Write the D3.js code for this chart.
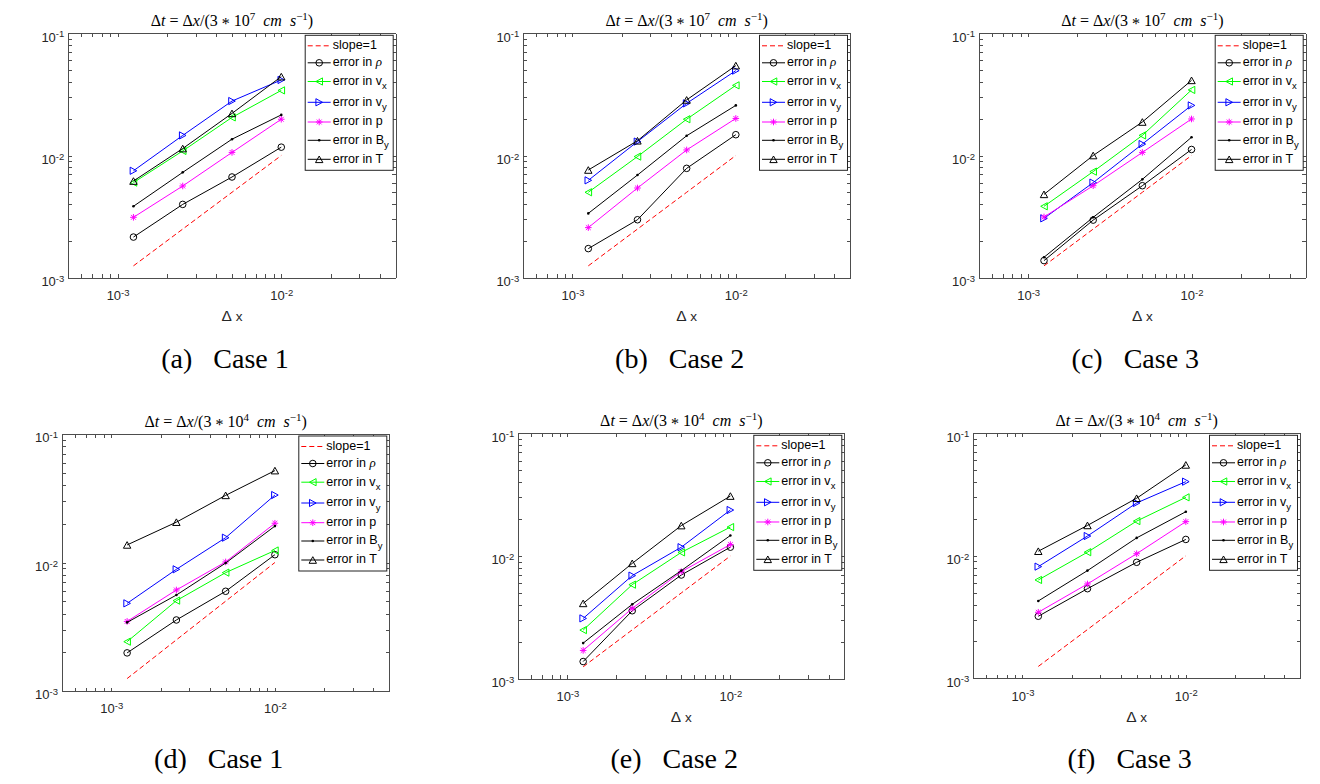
<!DOCTYPE html>
<html>
<head>
<meta charset="utf-8">
<title>convergence</title>
<script src="https://d3js.org/d3.v7.min.js"></script>
<style>
  body { margin: 0; background: #fff; }
  svg { display: block; }
  .axis path, .axis line { stroke: #4d4d4d; stroke-width: 1; shape-rendering: crispEdges; }
  .legend text { font-family: "Liberation Sans", Arial, sans-serif; font-size: 12.5px; fill: #000; }
  .title { font-family: "Liberation Serif", "Times New Roman", serif; font-size: 16px; fill: #000; }
  .xlabel { font-family: "Liberation Sans", Arial, sans-serif; font-size: 13.5px; fill: #262626; }
  .caption { font-family: "Liberation Serif", "Times New Roman", serif; font-size: 28px; fill: #000; }
</style>
</head>
<body>
<svg width="1320" height="784"></svg>
<script>

// grid spacing used in every case
var dx = [1.25e-3, 2.5e-3, 5e-3, 1e-2];
// reference line of slope 1
var slopeRef = [1.25e-3, 2.5e-3, 5e-3, 1e-2];

// errors, one row per panel (a)..(f)
var errRho = [
  [2.15e-3, 3.98e-3, 6.67e-3, 1.17e-2],
  [1.73e-3, 2.98e-3, 7.85e-3, 1.48e-2],
  [1.38e-3, 2.96e-3, 5.66e-3, 1.12e-2],
  [1.98e-3, 3.57e-3, 5.97e-3, 1.15e-2],
  [1.38e-3, 3.58e-3, 7.0e-3, 1.18e-2],
  [3.21e-3, 5.39e-3, 8.85e-3, 1.36e-2]
];
var errVx = [
  [6.0e-3, 1.09e-2, 2.05e-2, 3.41e-2],
  [5.0e-3, 9.8e-3, 1.98e-2, 3.75e-2],
  [3.84e-3, 7.38e-3, 1.46e-2, 3.44e-2],
  [2.42e-3, 5.05e-3, 8.34e-3, 1.24e-2],
  [2.49e-3, 5.84e-3, 1.07e-2, 1.72e-2],
  [6.35e-3, 1.07e-2, 1.92e-2, 3.0e-2]
];
var errVy = [
  [7.5e-3, 1.46e-2, 2.79e-2, 4.15e-2],
  [6.26e-3, 1.30e-2, 2.67e-2, 4.95e-2],
  [3.06e-3, 6.0e-3, 1.24e-2, 2.57e-2],
  [4.81e-3, 8.85e-3, 1.56e-2, 3.35e-2],
  [3.10e-3, 6.92e-3, 1.18e-2, 2.37e-2],
  [8.16e-3, 1.45e-2, 2.70e-2, 4.03e-2]
];
var errP = [
  [3.12e-3, 5.63e-3, 1.06e-2, 1.98e-2],
  [2.57e-3, 5.42e-3, 1.11e-2, 2.01e-2],
  [3.14e-3, 5.66e-3, 1.06e-2, 1.99e-2],
  [3.48e-3, 6.11e-3, 1.01e-2, 2.02e-2],
  [1.70e-3, 3.74e-3, 7.45e-3, 1.24e-2],
  [3.46e-3, 5.89e-3, 1.04e-2, 1.90e-2]
];
var errBy = [
  [3.84e-3, 7.28e-3, 1.36e-2, 2.15e-2],
  [3.36e-3, 6.92e-3, 1.45e-2, 2.57e-2],
  [1.47e-3, 3.12e-3, 6.38e-3, 1.41e-2],
  [3.42e-3, 5.58e-3, 9.9e-3, 1.92e-2],
  [1.95e-3, 4.04e-3, 7.6e-3, 1.47e-2],
  [4.28e-3, 7.57e-3, 1.40e-2, 2.29e-2]
];
var errT = [
  [6.18e-3, 1.14e-2, 2.21e-2, 4.42e-2],
  [7.61e-3, 1.32e-2, 2.85e-2, 5.44e-2],
  [4.81e-3, 1.0e-2, 1.88e-2, 4.12e-2],
  [1.37e-2, 2.06e-2, 3.33e-2, 5.19e-2],
  [4.11e-3, 8.71e-3, 1.77e-2, 3.08e-2],
  [1.09e-2, 1.77e-2, 2.95e-2, 5.52e-2]
];

var panelLetters = ["a", "b", "c", "d", "e", "f"];
var caseNames = ["Case 1", "Case 2", "Case 3", "Case 1", "Case 2", "Case 3"];
var speedExponent = ["7", "7", "7", "4", "4", "4"];
var xMajorTicks = [1e-3, 1e-2];
var yMajorTicks = [1e-3, 1e-2, 1e-1];

var svg = d3.select("svg");

// axes boxes
var frames = [
  {l: 68.3, r: 395.7, t: 33.3, b: 277.7, xlab: true,  capY: 368},
  {l: 523.3, r: 850,  t: 33.3, b: 277.7, xlab: true,  capY: 368},
  {l: 979,  r: 1305.7, t: 33.3, b: 277.7, xlab: true, capY: 368},
  {l: 62,   r: 389.3, t: 434,  b: 691,   xlab: false, capY: 768},
  {l: 518.3, r: 844.3, t: 433.3, b: 678.7, xlab: true, capY: 768},
  {l: 973.3, r: 1300, t: 433.3, b: 678.3, xlab: true, capY: 768}
];

// custom marker shapes for d3.symbol
var triLeft = { draw: function(c, s) { c.moveTo(-3.3, 0); c.lineTo(3.3, -3.6); c.lineTo(3.3, 3.6); c.closePath(); } };
var triRight = { draw: function(c, s) { c.moveTo(3.3, 0); c.lineTo(-3.3, -3.6); c.lineTo(-3.3, 3.6); c.closePath(); } };
var triUp = { draw: function(c, s) { c.moveTo(0, -3.3); c.lineTo(3.7, 3.3); c.lineTo(-3.7, 3.3); c.closePath(); } };
var star = { draw: function(c, s) {
  c.moveTo(-3.3, 0); c.lineTo(3.3, 0);
  c.moveTo(0, -3.3); c.lineTo(0, 3.3);
  c.moveTo(-2.4, -2.4); c.lineTo(2.4, 2.4);
  c.moveTo(-2.4, 2.4); c.lineTo(2.4, -2.4);
} };

var series = [
  {data: function(i) { return slopeRef; }, color: "#ff0000", dash: "5,3", marker: null,
   label: ["slope=1"]},
  {data: function(i) { return errRho[i]; }, color: "#000000", marker: d3.symbolCircle, size: 34,
   label: ["error in ", {it: "\u03c1"}]},
  {data: function(i) { return errVx[i]; }, color: "#00ff00", marker: triLeft,
   label: ["error in v", {sub: "x"}]},
  {data: function(i) { return errVy[i]; }, color: "#0000ff", marker: triRight,
   label: ["error in v", {sub: "y"}]},
  {data: function(i) { return errP[i]; }, color: "#ff00ff", marker: star,
   label: ["error in p"]},
  {data: function(i) { return errBy[i]; }, color: "#000000", marker: "dot",
   label: ["error in B", {sub: "y"}]},
  {data: function(i) { return errT[i]; }, color: "#000000", marker: triUp,
   label: ["error in T"]}
];
var legendRows = [10.5, 27.5, 46.2, 67, 86.7, 105, 124];

function drawMarker(sel, s, px, py) {
  if (!s.marker) return;
  if (s.marker === "dot") {
    sel.append("circle").attr("cx", px).attr("cy", py).attr("r", 1.3).attr("fill", s.color);
    return;
  }
  sel.append("path")
    .attr("d", d3.symbol().type(s.marker).size(s.size || 40)())
    .attr("transform", "translate(" + px + "," + py + ")")
    .attr("fill", "none")
    .attr("stroke", s.color)
    .attr("stroke-width", 1);
}

// "10" with a raised exponent at the decades, nothing elsewhere
function supLabel(sel) {
  sel.each(function(d) {
    var isMajor = Math.abs(Math.log10(d) - Math.round(Math.log10(d))) < 1e-9;
    var t = d3.select(this)
      .style("font-family", "'Liberation Sans', Arial, sans-serif")
      .style("font-size", "13px")
      .style("fill", "#262626");
    t.text("");
    if (!isMajor) return;
    t.append("tspan").text("10");
    t.append("tspan").attr("dy", "-0.45em").style("font-size", "9.5px").text(Math.round(Math.log10(d)));
  });
}

frames.forEach(function(f, i) {
  var x = d3.scaleLog().domain([5e-4, 5e-2]).range([f.l, f.r]);
  var y = d3.scaleLog().domain([1e-3, 1e-1]).range([f.b, f.t]);
  var xt = x.ticks().filter(function(v) { return v > 5.01e-4 && v < 4.99e-2; });
  var yt = y.ticks().filter(function(v) { return v >= 1e-3 && v <= 1e-1; });
  var g = svg.append("g");

  g.append("rect").attr("x", f.l).attr("y", f.t).attr("width", f.r - f.l).attr("height", f.b - f.t)
    .attr("fill", "#fff");

  // series
  series.forEach(function(s) {
    var vals = s.data(i);
    var pts = dx.map(function(d, k) { return [x(d), y(vals[k])]; });
    g.append("path")
      .attr("d", d3.line()(pts))
      .attr("fill", "none")
      .attr("stroke", s.color)
      .attr("stroke-width", 1)
      .attr("stroke-dasharray", s.dash || null);
    pts.forEach(function(p) { drawMarker(g, s, p[0], p[1]); });
  });

  // axes with inward ticks on all four sides
  g.append("g").attr("class", "axis").attr("transform", "translate(0," + f.b + ")")
    .call(d3.axisBottom(x).tickValues(xt).tickSizeInner(-3.5).tickSizeOuter(0).tickPadding(13))
    .selectAll(".tick text").call(supLabel);
  g.append("g").attr("class", "axis").attr("transform", "translate(0," + f.t + ")")
    .call(d3.axisTop(x).tickValues(xt).tickSizeInner(-3.5).tickSizeOuter(0).tickFormat(""));
  g.append("g").attr("class", "axis").attr("transform", "translate(" + f.l + ",0)")
    .call(d3.axisLeft(y).tickValues(yt).tickSizeInner(-3.5).tickSizeOuter(0).tickPadding(4))
    .selectAll(".tick text").attr("dy", "0.6em").call(supLabel);
  g.append("g").attr("class", "axis").attr("transform", "translate(" + f.r + ",0)")
    .call(d3.axisRight(y).tickValues(yt).tickSizeInner(-3.5).tickSizeOuter(0).tickFormat(""));

  // major tick labels only at the decades
  g.selectAll(".tick").filter(function(d) {
    return xMajorTicks.indexOf(d) < 0 && yMajorTicks.indexOf(d) < 0;
  }).selectAll("text").remove();

  var cx = (f.l + f.r) / 2;

  // title
  var tt = g.append("text").attr("class", "title").attr("x", cx).attr("y", f.t - 7.5)
    .attr("text-anchor", "middle").style("white-space", "pre");
  tt.append("tspan").text("\u0394");
  tt.append("tspan").attr("font-style", "italic").text("t");
  tt.append("tspan").text(" = \u0394");
  tt.append("tspan").attr("font-style", "italic").text("x");
  tt.append("tspan").text("/(3 ");
  tt.append("tspan").attr("dy", 3.5).text("*");
  tt.append("tspan").attr("dy", -3.5).text(" 10");
  tt.append("tspan").attr("dy", -6).attr("font-size", "11px").text(speedExponent[i]);
  tt.append("tspan").attr("dy", 6).text("  ");
  tt.append("tspan").attr("font-style", "italic").text("cm  s");
  tt.append("tspan").attr("dy", -6).attr("font-size", "11px").text("\u22121");
  tt.append("tspan").attr("dy", 6).text(")");

  // x label
  if (f.xlab) {
    var xl = g.append("text").attr("class", "xlabel").attr("x", cx).attr("y", f.b + 43.5)
      .attr("text-anchor", "middle");
    xl.append("tspan").attr("font-size", "15.5px").text("\u0394");
    xl.append("tspan").text(" x");
  }

  // legend
  var lw = 88, lh = 135;
  var lg = g.append("g").attr("class", "legend")
    .attr("transform", "translate(" + (f.r - 2.5 - lw) + "," + (f.t + 2) + ")");
  lg.append("rect").attr("width", lw).attr("height", lh)
    .attr("fill", "#fff").attr("stroke", "#222").attr("stroke-width", 1);
  series.forEach(function(s, k) {
    var ry = legendRows[k];
    lg.append("line").attr("x1", 2.5).attr("x2", 25.5).attr("y1", ry).attr("y2", ry)
      .attr("stroke", s.color).attr("stroke-width", 1).attr("stroke-dasharray", s.dash || null);
    drawMarker(lg, s, 14, ry);
    var hasSub = s.label.some(function(p) { return p.sub; });
    var tx = lg.append("text").attr("x", 27.5).attr("y", ry + (hasSub ? 3.3 : 4.3));
    s.label.forEach(function(p) {
      if (typeof p === "string") tx.append("tspan").text(p);
      else if (p.it) tx.append("tspan").attr("font-family", "Liberation Serif, serif")
        .attr("font-style", "italic").attr("font-size", "13px").text(p.it);
      else if (p.sub) tx.append("tspan").attr("dy", 4.5).attr("font-size", "9.5px").text(p.sub);
    });
  });

  // sub caption
  svg.append("text").attr("class", "caption").attr("x", cx - 7).attr("y", f.capY)
    .attr("text-anchor", "middle")
    .text("(" + panelLetters[i] + ")\u2002 " + caseNames[i]);
});

</script>
</body>
</html>
